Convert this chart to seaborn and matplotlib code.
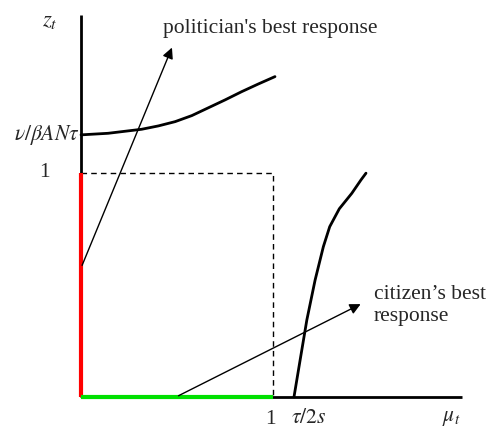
import matplotlib
matplotlib.use("Agg")
import matplotlib.pyplot as plt
import seaborn as sns
import pandas as pd

sns.set_style("white")
plt.rcParams['font.family'] = ['Liberation Serif', 'DejaVu Serif']
plt.rcParams['mathtext.fontset'] = 'stix'

# politician's best response curve
pol_x = [0.0, 0.141, 0.316, 0.403, 0.490, 0.577, 0.661, 0.750, 0.837, 0.923, 1.010]
pol_y = [1.170, 1.177, 1.195, 1.210, 1.229, 1.256, 1.290, 1.326, 1.363, 1.397, 1.430]

# citizen's best response curve (starts at tau/2s)
cit_x = [1.109, 1.141, 1.176, 1.219, 1.262, 1.295, 1.345, 1.410, 1.458, 1.484]
cit_y = [0.0, 0.165, 0.344, 0.522, 0.671, 0.760, 0.840, 0.909, 0.969, 0.999]

x_max = 1.984
y_max = 1.705
tau_2s = 1.109
v_level = 1.170

pol = pd.DataFrame({"x": pol_x, "y": pol_y})
cit = pd.DataFrame({"x": cit_x, "y": cit_y})

fig = plt.figure(figsize=(4.91, 4.29), dpi=100)
ax = fig.add_axes([0, 0, 1, 1])

# axes
ax.plot([0, 0], [0, y_max], color="black", lw=2, solid_capstyle="butt")
ax.plot([0, x_max], [0, 0], color="black", lw=2, solid_capstyle="butt")

# dashed unit box
ax.plot([0, 1, 1], [1, 1, 0], color="black", lw=1, ls=(0, (4, 3)))

# coloured segments
ax.plot([0, 0], [0, 1], color="#ff0000", lw=3, solid_capstyle="butt")
ax.plot([0, 1], [0, 0], color="#00e000", lw=3, solid_capstyle="butt")

sns.lineplot(data=pol, x="x", y="y", sort=False, color="black", lw=2,
             solid_joinstyle="round", ax=ax)
sns.lineplot(data=cit, x="x", y="y", sort=False, color="black", lw=2,
             solid_joinstyle="round", ax=ax)
ax.axis("off")
ax.set_xlim(-0.422, 2.135)
ax.set_ylim(-0.143, 1.772)

# arrows
ax.annotate("", xy=(0.479, 1.571), xytext=(0.0, 0.576),
            arrowprops=dict(arrowstyle="-|>", color="black", lw=1, mutation_scale=16))
ax.annotate("", xy=(1.469, 0.42), xytext=(0.495, 0.0),
            arrowprops=dict(arrowstyle="-|>", color="black", lw=1, mutation_scale=16))

fs = 15.5
ax.text(0.425, 1.647, "politician's best response", fontsize=fs, ha="left", va="center")
ax.text(1.525, 0.41, "citizen\u2019s best\nresponse", fontsize=fs, ha="left", va="center",
        linespacing=1.2)

ax.text(-0.16, 1.68, r"$z_t$", fontsize=fs + 1, ha="center", va="center")
ax.text(-0.01, v_level, r"$\nu/\beta AN\tau$", fontsize=fs, ha="right", va="center")
ax.text(-0.19, 1.0, "1", fontsize=fs, ha="center", va="center")
ax.text(0.985, -0.1, "1", fontsize=fs, ha="center", va="center")
ax.text(1.1875, -0.094, r"$\tau/2s$", fontsize=fs, ha="center", va="center")
ax.text(1.93, -0.094, r"$\mu_t$", fontsize=fs, ha="center", va="center")

fig.savefig("out.png", dpi=100)
